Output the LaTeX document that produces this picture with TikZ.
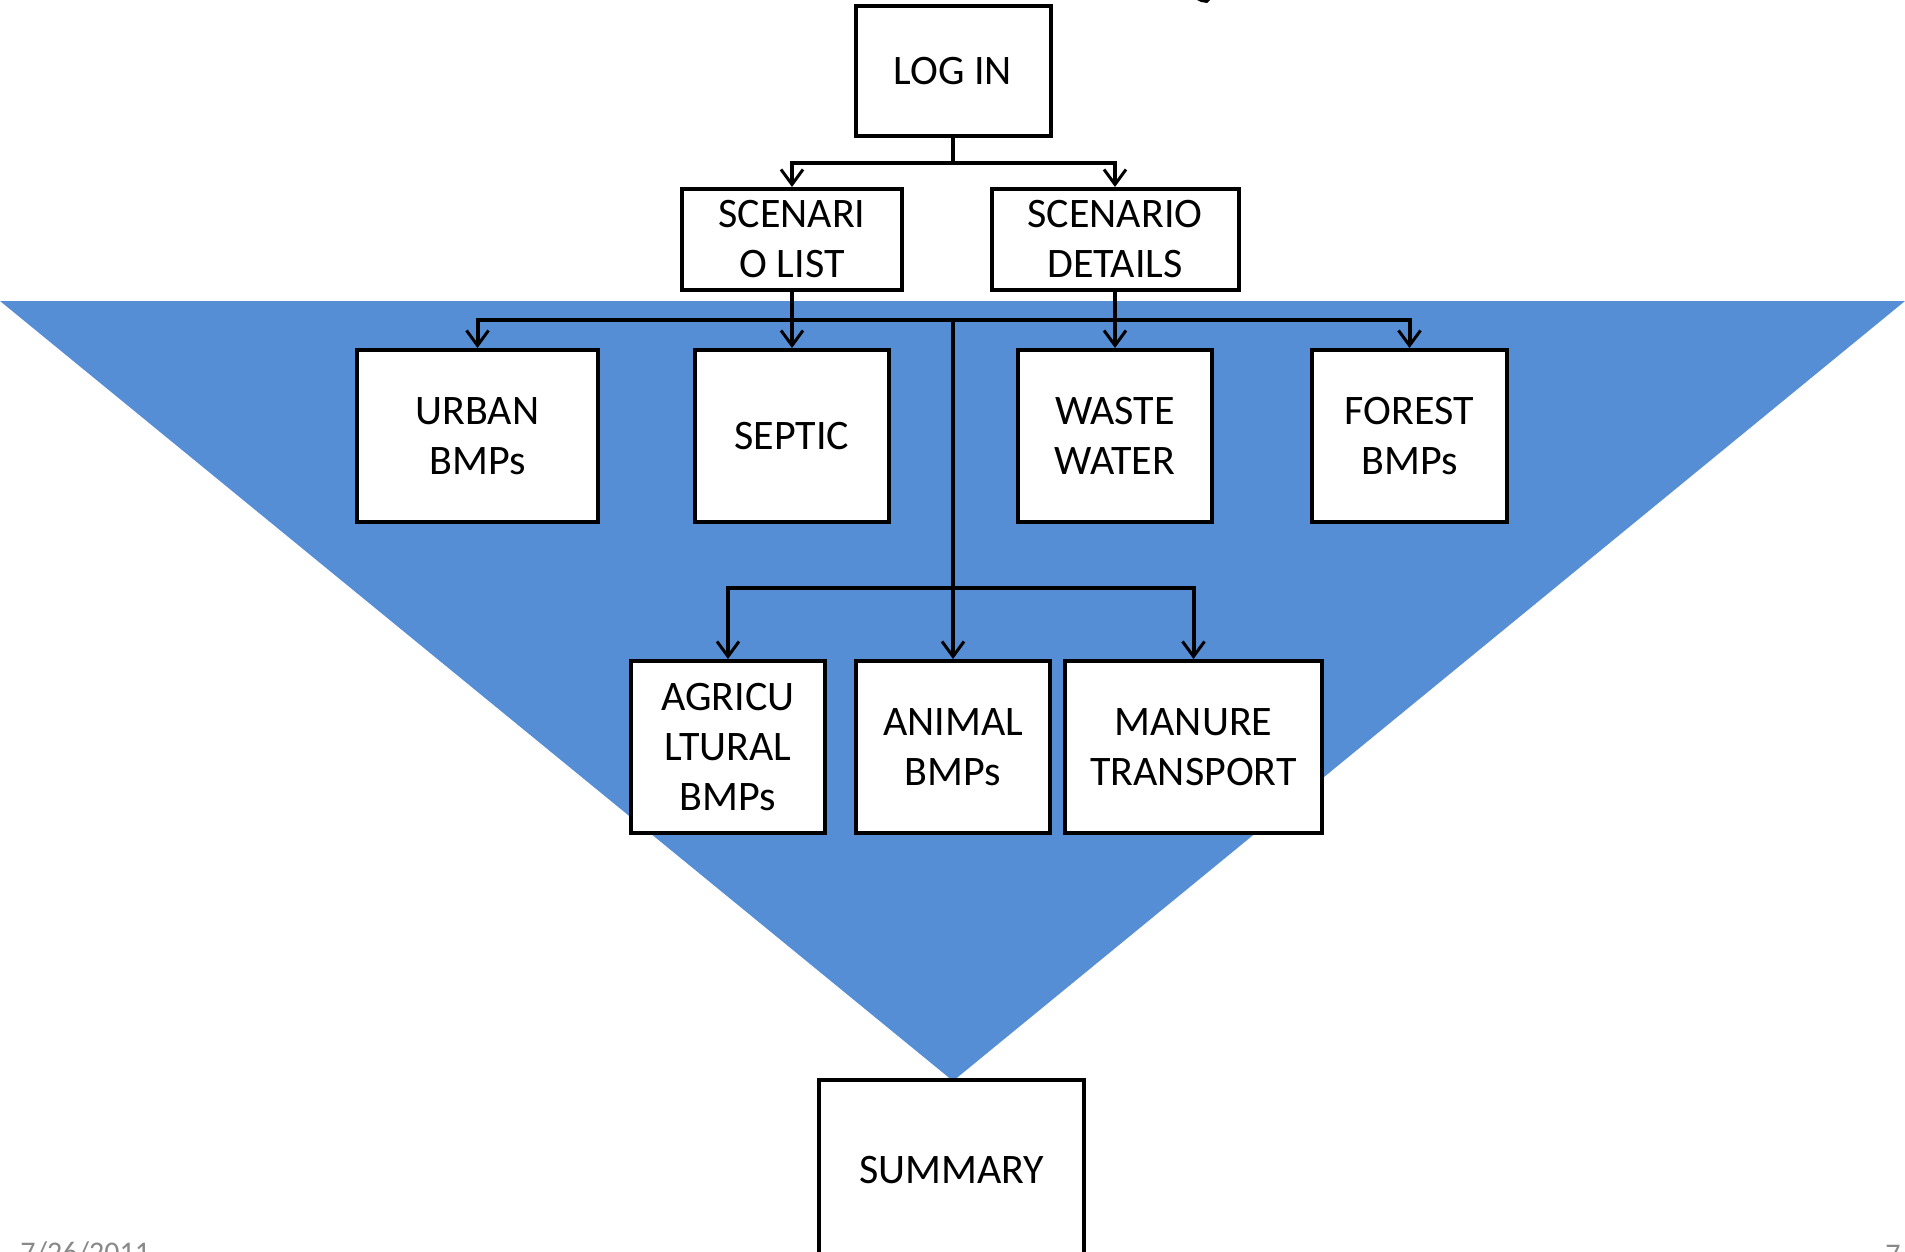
\documentclass[tikz,border=0pt]{standalone}
\usepackage{fontspec}
\setmainfont{Carlito}
\usetikzlibrary{arrows.meta}
\definecolor{triblue}{HTML}{558ED5}
\definecolor{footgray}{HTML}{898989}
\tikzset{
  box/.style={draw=black, line width=2pt, fill=white, inner sep=0pt, align=center,
    font=\fontsize{21}{25}\selectfont},
  conn/.style={line width=2pt},
  arr/.style={conn, -{Straight Barb[length=7.5pt,width=11pt,line width=1.5pt]}},
  foot/.style={text=footgray, font=\fontsize{15}{18}\selectfont, inner sep=0pt}
}
\begin{document}
\begin{tikzpicture}[x=0.5pt,y=-0.5pt]
\useasboundingbox (0,0) rectangle (1905,1252);
\begin{scope}
\clip (0,0) rectangle (1905,1252);
% blue triangle
\fill[triblue] (0,301) -- (1905,301) -- (953,1081) -- cycle;
% top fragment
\fill[black] (1197,0) -- (1210,0) -- (1207,3) -- (1201,2) -- cycle;
% boxes
\node[box, minimum width=97.5pt, minimum height=65pt] (login) at (953,71) {LOG IN};
\node[box, minimum width=110pt, minimum height=50.5pt] (slist) at (792,239.5) {SCENARI\\O LIST};
\node[box, minimum width=123.5pt, minimum height=50.5pt] (sdet) at (1115,239.5) {SCENARIO\\DETAILS};
\node[box, minimum width=120.5pt, minimum height=86pt] (urban) at (477.5,436) {URBAN\\BMPs};
\node[box, minimum width=97pt, minimum height=86pt] (septic) at (792,436) {SEPTIC};
\node[box, minimum width=97pt, minimum height=86pt] (waste) at (1115,436) {WASTE\\WATER};
\node[box, minimum width=97.5pt, minimum height=86pt] (forest) at (1409.5,436) {FOREST\\BMPs};
\node[box, minimum width=97pt, minimum height=86pt] (agri) at (728,747) {AGRICU\\LTURAL\\BMPs};
\node[box, minimum width=97pt, minimum height=86pt] (animal) at (953,747) {ANIMAL\\BMPs};
\node[box, minimum width=128.5pt, minimum height=86pt] (manure) at (1193.5,747) {MANURE\\TRANSPORT};
\node[box, minimum width=132.5pt, minimum height=90pt] (summary) at (951.5,1170) {SUMMARY};
% connectors
\coordinate (j1) at (953,163);
\draw[conn] (login.south) -- (j1);
\draw[arr] (j1) -| (slist.north);
\draw[arr] (j1) -| (sdet.north);
\draw[arr] (slist.south) -- (septic.north);
\draw[arr] (sdet.south) -- (waste.north);
\coordinate (h1) at (953,320);
\draw[arr] (h1) -| (urban.north);
\draw[arr] (h1) -| (forest.north);
\coordinate (j2) at (953,588);
\draw[conn] (h1) -- (j2);
\draw[arr] (j2) -| (agri.north);
\draw[arr] (j2) -- (animal.north);
\draw[arr] (j2) -| (manure.north);
% footer
\node[foot, anchor=north west] (date) at (20,1241) {7/26/2011};
\node[foot, anchor=north west] (pnum) at (1885,1245) {7};
\end{scope}
\end{tikzpicture}
\end{document}
